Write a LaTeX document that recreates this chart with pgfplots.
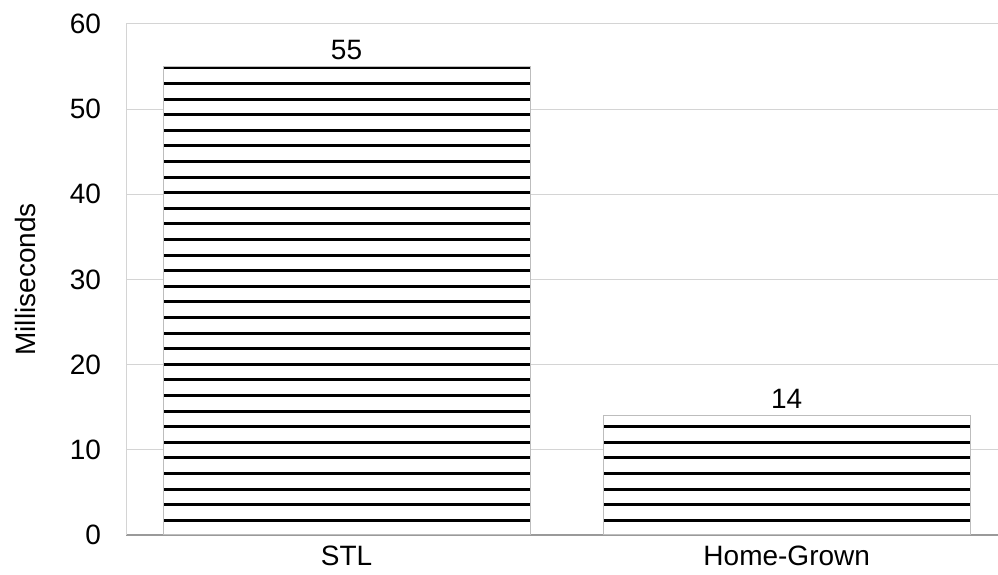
\documentclass[border=0pt]{standalone}
\usepackage{pgfplots}
\pgfplotsset{compat=1.18}
\usepackage{fontspec}
\setmainfont{Liberation Sans}
\usetikzlibrary{patterns}

% thick horizontal hatching used for the bars
\pgfdeclarepatternformonly{thickhlines}{\pgfqpoint{-0.5pt}{0pt}}{\pgfqpoint{10.5pt}{7.8pt}}{\pgfqpoint{10pt}{7.8pt}}{%
  \pgfsetlinewidth{1.5pt}%
  \pgfpathmoveto{\pgfqpoint{-0.5pt}{3.9pt}}%
  \pgfpathlineto{\pgfqpoint{10.5pt}{3.9pt}}%
  \pgfusepath{stroke}}

\definecolor{gridgray}{HTML}{D4D4D4}
\definecolor{basegray}{HTML}{9A9A9A}
\definecolor{edgegray}{HTML}{BDBDBD}

\begin{document}
\begin{tikzpicture}
\begin{axis}[
  name=ax,
  scale only axis,
  width=436pt, height=255.5pt,
  xmin=-0.501, xmax=1.48,
  ymin=0, ymax=60,
  ytick={0,10,...,60},
  xtick={0,1},
  xticklabels={STL,Home-Grown},
  major tick length=0pt,
  ymajorgrids,
  grid style={gridgray, line width=0.5pt},
  axis x line*=bottom,
  axis y line*=left,
  x axis line style={basegray, line width=0.6pt, -},
  y axis line style={gridgray, line width=0.5pt, -},
  font=\fontsize{14}{17}\selectfont,
  /pgf/number format/assume math mode=true,
  yticklabel style={xshift=-9pt},
  xticklabel style={yshift=-2pt},
  ylabel={Milliseconds},
  ylabel style={at={(rel axis cs:0,0.5)}, anchor=center, yshift=50.5pt},
  ybar,
  bar width=183.5pt,
  nodes near coords,
  every node near coord/.append style={font=\fontsize{14}{17}\selectfont, yshift=0pt},
]
\addplot[draw=edgegray, line width=0.5pt, fill=white, postaction={pattern=thickhlines}]
  coordinates {(0,55) (1,14)};
\end{axis}
\pgfresetboundingbox
\path[use as bounding box] ([xshift=-63pt,yshift=-20pt]ax.south west) rectangle ([yshift=12pt]ax.north east);
\end{tikzpicture}
\end{document}
